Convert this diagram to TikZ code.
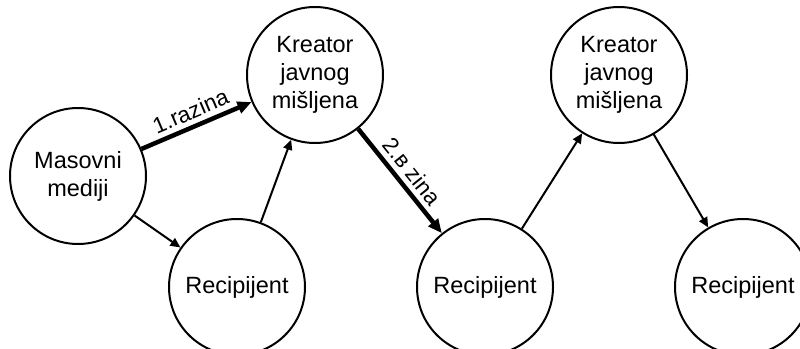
\documentclass[tikz,border=0pt]{standalone}
\usepackage{fontspec}
\setmainfont{Liberation Sans}
\usetikzlibrary{arrows.meta}
\begin{document}
\begin{tikzpicture}[x=1pt,y=-1pt,
  circ/.style={circle,draw,line width=2pt,minimum size=136pt,inner sep=0pt,align=center,font=\fontsize{23.5}{28}\selectfont},
  thinarrow/.style={line width=2pt,-{Triangle[length=10pt,width=9pt]}},
  thickarrow/.style={line width=4.5pt,-{Triangle[length=14pt,width=12pt]}},
  lbl/.style={font=\fontsize{22.5}{26}\selectfont,inner sep=5pt}
]
\useasboundingbox (0,0) rectangle (800,348);
\node[circ] (mm) at (78,176) {Masovni\\mediji};
\node[circ] (k1) at (315,75) {Kreator\\javnog\\mišljena};
\node[circ] (r1) at (237,287) {Recipijent};
\node[circ] (r2) at (485,287) {Recipijent};
\node[circ] (k2) at (619,75) {Kreator\\javnog\\mišljena};
\node[circ] (r3) at (743,287) {Recipijent};
\draw[thickarrow] (mm) -- node[lbl,midway,above,sloped] {1.razina} (k1);
\draw[thinarrow] (mm) -- (r1);
\draw[thinarrow] (r1) -- (k1);
\draw[thickarrow] (k1) -- node[lbl,midway,above,sloped] {2.в zina} (r2);
\draw[thinarrow] (r2) -- (k2);
\draw[thinarrow] (k2) -- (r3);
\end{tikzpicture}
\end{document}
